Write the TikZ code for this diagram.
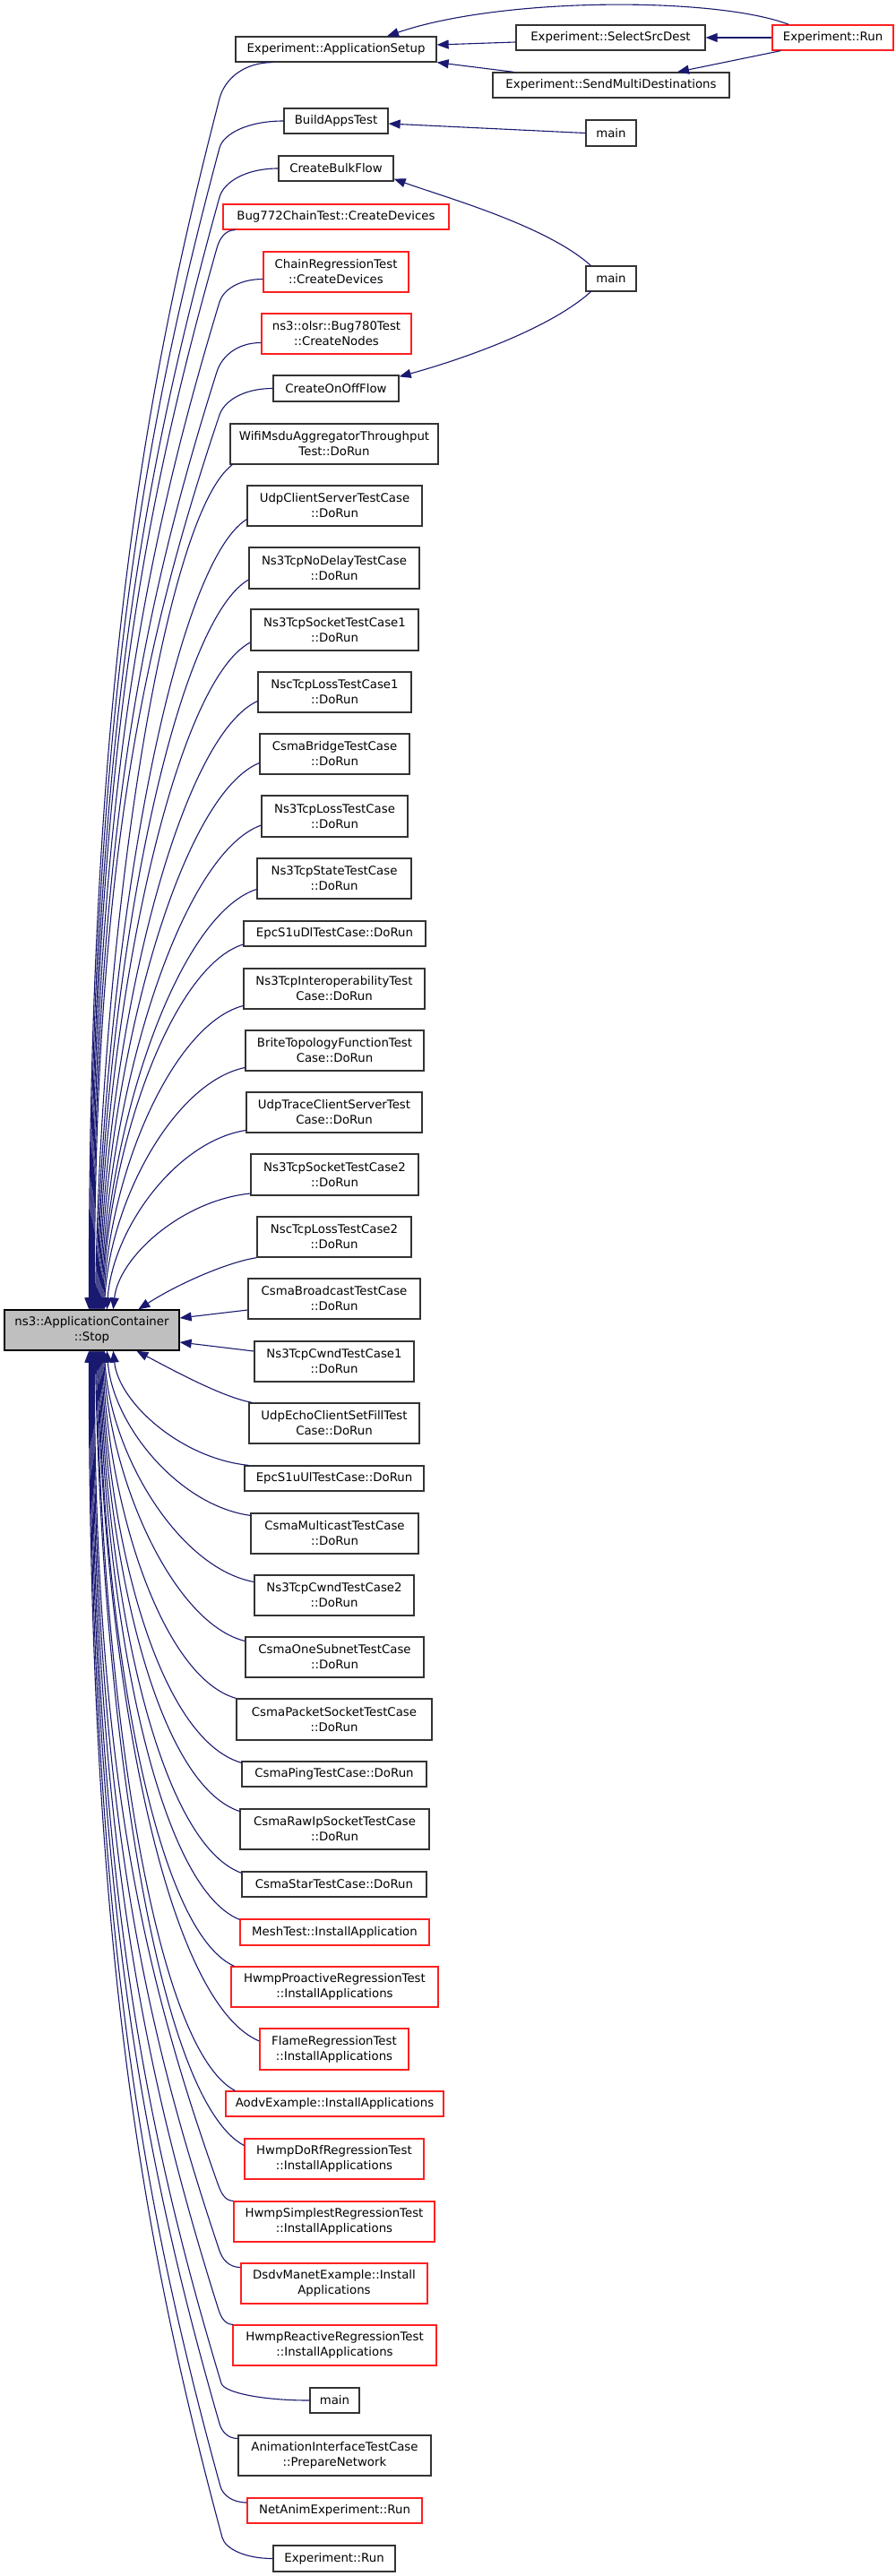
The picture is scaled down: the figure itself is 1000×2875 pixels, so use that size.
\documentclass[tikz,border=0pt]{standalone}
\usepackage{fontspec}
\setmainfont{DejaVu Sans}
\usetikzlibrary{calc,arrows.meta}
\definecolor{edgeblue}{HTML}{191970}
\definecolor{boxline}{HTML}{333333}
\definecolor{mainfill}{HTML}{BFBFBF}
\definecolor{redline}{HTML}{FF2020}
\tikzset{
  bx/.style={draw=boxline, line width=1.3pt, fill=white, inner sep=0pt, align=center,
             font=\fontsize{13.3pt}{17pt}\selectfont},
  rbx/.style={bx, draw=redline},
  mbx/.style={bx, fill=mainfill, draw=black},
  cx/.style={draw=edgeblue, line width=1.1pt, -{Triangle[length=13pt,width=10pt]}},
}
% single cubic connector: #1 turn factor, #2 start, #3 end
\newcommand\cedge[3]{%
  \draw[cx] let \p1=#2, \p2=#3, \n1={\x1-\x2}, \n2={\y1-\y2} in
    (\p1) .. controls ({\x1-#1*\n1},{\y1-0.06*\n2}) and ({\x2+0.04*\n1},{\y2+0.45*\n2}) .. (\p2);}
% two-piece connector: #1 start, #2 bend point, #3 end
\newcommand\tedge[3]{%
  \draw[cx] let \p1=#1, \p2=#2, \p3=#3,
    \p4=({0.6*(\x3-\x2)},{0.25*(\y3-\y2)}),
    \n1={atan2(\y4,\x4)}, \n2={0.55*abs(\y2-\y1)} in
    (\p1) .. controls ({\x1-0.55*(\x1-\x2)},\y1) and ({\x2-\n2*cos(\n1)},{\y2-\n2*sin(\n1)}) .. (\p2)
    .. controls ({\x2+\x4},{\y2+\y4}) and (\x3,{\y3-0.5*(\y3-\y2)}) .. (\p3);}
\begin{document}
\begin{tikzpicture}[x=1pt,y=-1pt]
\fill[white] (0,0) rectangle (1000,2875);
\useasboundingbox (0,0) rectangle (1000,2875);

% ---- nodes ----
\node[bx, minimum width=224pt, minimum height=28pt] (appsetup) at (375,55) {Experiment::ApplicationSetup};
\node[bx, minimum width=211pt, minimum height=28pt] (select) at (681.5,42) {Experiment::SelectSrcDest};
\node[rbx, minimum width=135pt, minimum height=28pt] (exprun1) at (929.5,42) {Experiment::Run};
\node[bx, minimum width=264pt, minimum height=28pt] (sendmulti) at (682,95) {Experiment::SendMultiDestinations};
\node[bx, minimum width=116pt, minimum height=28pt] (buildapps) at (375,135) {BuildAppsTest};
\node[bx, minimum width=56pt, minimum height=29pt] (mainA) at (682,148.5) {main};
\node[bx, minimum width=128pt, minimum height=28pt] (bulk) at (375,188) {CreateBulkFlow};
\node[rbx, minimum width=252pt, minimum height=28pt] (bug772) at (375,242) {Bug772ChainTest::CreateDevices};
\node[rbx, minimum width=162pt, minimum height=45pt] (chainreg) at (375,303.5) {ChainRegressionTest\\::CreateDevices};
\node[bx, minimum width=56pt, minimum height=28pt] (mainB) at (682,311) {main};
\node[rbx, minimum width=167pt, minimum height=45pt] (olsr) at (375.5,372.5) {ns3::olsr::Bug780Test\\::CreateNodes};
\node[bx, minimum width=140pt, minimum height=29pt] (onoff) at (375,433.5) {CreateOnOffFlow};
\node[bx, minimum width=232pt, minimum height=45pt] (wifi) at (373,495.5) {WifiMsduAggregatorThroughput\\Test::DoRun};
\node[bx, minimum width=195pt, minimum height=45pt] (udpcs) at (373.5,564.5) {UdpClientServerTestCase\\::DoRun};
\node[bx, minimum width=190pt, minimum height=46pt] (nodelay) at (373,634) {Ns3TcpNoDelayTestCase\\::DoRun};
\node[bx, minimum width=187pt, minimum height=46pt] (sock1) at (373.5,703) {Ns3TcpSocketTestCase1\\::DoRun};
\node[bx, minimum width=171pt, minimum height=45pt] (nsc1) at (373.5,772.5) {NscTcpLossTestCase1\\::DoRun};
\node[bx, minimum width=167pt, minimum height=45pt] (bridge) at (373.5,841.5) {CsmaBridgeTestCase\\::DoRun};
\node[bx, minimum width=163pt, minimum height=46pt] (loss) at (373.5,911) {Ns3TcpLossTestCase\\::DoRun};
\node[bx, minimum width=172pt, minimum height=45pt] (state) at (373,980.5) {Ns3TcpStateTestCase\\::DoRun};
\node[bx, minimum width=203pt, minimum height=28pt] (epcdl) at (373.5,1042) {EpcS1uDlTestCase::DoRun};
\node[bx, minimum width=202pt, minimum height=45pt] (interop) at (373,1103.5) {Ns3TcpInteroperabilityTest\\Case::DoRun};
\node[bx, minimum width=199pt, minimum height=45pt] (brite) at (373.5,1172.5) {BriteTopologyFunctionTest\\Case::DoRun};
\node[bx, minimum width=196pt, minimum height=45pt] (udptrace) at (373,1241.5) {UdpTraceClientServerTest\\Case::DoRun};
\node[bx, minimum width=187pt, minimum height=46pt] (sock2) at (373.5,1311) {Ns3TcpSocketTestCase2\\::DoRun};
\node[bx, minimum width=172pt, minimum height=45pt] (nsc2) at (373,1380.5) {NscTcpLossTestCase2\\::DoRun};
\node[bx, minimum width=192pt, minimum height=45pt] (bcast) at (373,1449.5) {CsmaBroadcastTestCase\\::DoRun};
\node[mbx, minimum width=195pt, minimum height=45pt] (mn) at (102.5,1484.5) {ns3::ApplicationContainer\\::Stop};
\node[bx, minimum width=178pt, minimum height=45pt] (cwnd1) at (373,1519.5) {Ns3TcpCwndTestCase1\\::DoRun};
\node[bx, minimum width=190pt, minimum height=45pt] (echo) at (373,1588.5) {UdpEchoClientSetFillTest\\Case::DoRun};
\node[bx, minimum width=200pt, minimum height=28pt] (epcul) at (373,1650) {EpcS1uUlTestCase::DoRun};
\node[bx, minimum width=187pt, minimum height=45pt] (mcast) at (373.5,1711.5) {CsmaMulticastTestCase\\::DoRun};
\node[bx, minimum width=178pt, minimum height=45pt] (cwnd2) at (373,1780.5) {Ns3TcpCwndTestCase2\\::DoRun};
\node[bx, minimum width=199pt, minimum height=45pt] (onesub) at (373.5,1849.5) {CsmaOneSubnetTestCase\\::DoRun};
\node[bx, minimum width=218pt, minimum height=46pt] (pktsock) at (373,1919) {CsmaPacketSocketTestCase\\::DoRun};
\node[bx, minimum width=206pt, minimum height=28pt] (ping) at (373,1980) {CsmaPingTestCase::DoRun};
\node[bx, minimum width=211pt, minimum height=45pt] (rawip) at (373.5,2041.5) {CsmaRawIpSocketTestCase\\::DoRun};
\node[bx, minimum width=206pt, minimum height=28pt] (star) at (373,2103) {CsmaStarTestCase::DoRun};
\node[rbx, minimum width=211pt, minimum height=29pt] (mesh) at (373.5,2156.5) {MeshTest::InstallApplication};
\node[rbx, minimum width=231pt, minimum height=45pt] (proactive) at (373.5,2217.5) {HwmpProactiveRegressionTest\\::InstallApplications};
\node[rbx, minimum width=166pt, minimum height=46pt] (flame) at (373,2287) {FlameRegressionTest\\::InstallApplications};
\node[rbx, minimum width=243pt, minimum height=28pt] (aodv) at (373.5,2348) {AodvExample::InstallApplications};
\node[rbx, minimum width=200pt, minimum height=45pt] (dorf) at (373,2409.5) {HwmpDoRfRegressionTest\\::InstallApplications};
\node[rbx, minimum width=224pt, minimum height=45pt] (simplest) at (373,2479.5) {HwmpSimplestRegressionTest\\::InstallApplications};
\node[rbx, minimum width=208pt, minimum height=45pt] (dsdv) at (373,2548.5) {DsdvManetExample::Install\\Applications};
\node[rbx, minimum width=227pt, minimum height=45pt] (reactive) at (373.5,2617.5) {HwmpReactiveRegressionTest\\::InstallApplications};
\node[bx, minimum width=55pt, minimum height=28pt] (mainC) at (373.5,2679) {main};
\node[bx, minimum width=215pt, minimum height=45pt] (anim) at (373.5,2740.5) {AnimationInterfaceTestCase\\::PrepareNetwork};
\node[rbx, minimum width=195pt, minimum height=28pt] (netanim) at (373.5,2802) {NetAnimExperiment::Run};
\node[bx, minimum width=136pt, minimum height=29pt] (exprun2) at (373,2855.5) {Experiment::Run};

% ---- top cluster connectors ----
\draw[cx] ($(select.west)+(0,5)$) -- ($(appsetup.east)+(0,-5)$);
\draw[cx] (exprun1.west) -- (select.east);
\draw[cx] ($(exprun1.north west)+(19,0)$) .. controls +(-81,-31) and +(128,-44) .. ($(appsetup.north)+(57,0)$);
\draw[cx] ($(exprun1.south west)+(10,0)$) -- ($(sendmulti.north)+(74,0)$);
\draw[cx] ($(sendmulti.north west)+(24,0)$) -- (appsetup.south east);
\draw[cx] (mainA.west) -- ($(buildapps.east)+(0,3)$);
\draw[cx] ($(mainB.north west)+(6,0)$) .. controls +(-50,-45) and +(55,20) .. ($(bulk.south east)+(0,-3)$);
\draw[cx] ($(mainB.south west)+(6,0)$) .. controls +(-50,45) and +(55,-15) .. ($(onoff.north east)+(0,2)$);

% ---- callers above the main node ----
\tedge{($(appsetup.south west)+(42,0)$)}{(245,110)}{($(mn.north west)+(95,0)$)}
\tedge{(buildapps.west)}{(245,165)}{($(mn.north west)+(96,0)$)}
\tedge{(bulk.west)}{(245,220)}{($(mn.north west)+(97,0)$)}
\tedge{($(bug772.south west)+(14,0)$)}{(242,277)}{($(mn.north west)+(98,0)$)}
\tedge{($(chainreg.west)+(0,8)$)}{(245,337)}{($(mn.north west)+(99,0)$)}
\tedge{($(olsr.west)+(0,10)$)}{(242,415)}{($(mn.north west)+(100,0)$)}
\tedge{(onoff.west)}{(245,463)}{($(mn.north west)+(101,0)$)}
\cedge{0.5}{($(wifi.south west)+(3,0)$)}{($(mn.north west)+(102,0)$)}
\cedge{0.5}{($(udpcs.west)+(0,15)$)}{($(mn.north west)+(103,0)$)}
\cedge{0.5}{($(nodelay.west)+(0,13)$)}{($(mn.north west)+(104,0)$)}
\cedge{0.5}{($(sock1.west)+(0,14)$)}{($(mn.north west)+(105,0)$)}
\cedge{0.5}{($(nsc1.west)+(0,10)$)}{($(mn.north west)+(106,0)$)}
\cedge{0.5}{($(bridge.west)+(0,10)$)}{($(mn.north west)+(107,0)$)}
\cedge{0.5}{($(loss.west)+(0,10)$)}{($(mn.north west)+(108,0)$)}
\cedge{0.5}{($(state.west)+(0,12)$)}{($(mn.north west)+(109,0)$)}
\cedge{0.5}{($(epcdl.west)+(0,12)$)}{($(mn.north west)+(110,0)$)}
\cedge{0.5}{($(interop.west)+(0,19)$)}{($(mn.north west)+(111,0)$)}
\cedge{0.5}{($(brite.west)+(0,19)$)}{($(mn.north west)+(112,0)$)}
\cedge{0.5}{($(udptrace.west)+(0,20)$)}{($(mn.north west)+(115,0)$)}
\cedge{0.5}{($(sock2.west)+(0,21)$)}{($(mn.north west)+(122,0)$)}
\draw[cx] (nsc2.south west) .. controls +(-32,5) and +(45,-29) .. ($(mn.north west)+(150,0)$);

% ---- callers beside the main node ----
\draw[cx] ($(bcast.west)+(0,12.5)$) -- ($(mn.east)+(0,-13.5)$);
\draw[cx] ($(cwnd1.west)+(0,-11.5)$) -- ($(mn.east)+(0,13.5)$);

% ---- callers below the main node ----
\draw[cx] ($(echo.north west)+(4,0)$) .. controls +(-32,-6) and +(47,25) .. ($(mn.south west)+(148,0)$);
\cedge{0.5}{($(epcul.north west)+(5,0)$)}{($(mn.south west)+(122,0)$)}
\cedge{0.5}{($(mcast.north west)+(0,3)$)}{($(mn.south west)+(115,0)$)}
\cedge{0.5}{($(cwnd2.west)+(0,-15)$)}{($(mn.south west)+(112,0)$)}
\cedge{0.5}{($(onesub.west)+(0,-18)$)}{($(mn.south west)+(111,0)$)}
\cedge{0.55}{(pktsock.north west)}{($(mn.south west)+(110,0)$)}
\cedge{0.6}{($(ping.north west)+(0,2)$)}{($(mn.south west)+(109,0)$)}
\cedge{0.6}{($(rawip.west)+(0,-20)$)}{($(mn.south west)+(108,0)$)}
\cedge{0.6}{($(star.north west)+(0,2)$)}{($(mn.south west)+(107,0)$)}
\cedge{0.6}{($(mesh.north west)+(0,1)$)}{($(mn.south west)+(106,0)$)}
\cedge{0.6}{($(proactive.north west)+(4,0)$)}{($(mn.south west)+(105,0)$)}
\cedge{0.6}{($(flame.west)+(0,-9)$)}{($(mn.south west)+(104,0)$)}
\cedge{0.6}{($(aodv.north west)+(11,0)$)}{($(mn.south west)+(103,0)$)}
\cedge{0.6}{($(dorf.west)+(0,-15)$)}{($(mn.south west)+(102,0)$)}
\tedge{(simplest.north west)}{(243,2437)}{($(mn.south west)+(101,0)$)}
\tedge{($(dsdv.west)+(0,-18)$)}{(245,2512)}{($(mn.south west)+(100,0)$)}
\tedge{($(reactive.north west)+(1,0)$)}{(244,2578)}{($(mn.south west)+(99,0)$)}
\tedge{(mainC.west)}{(247,2660)}{($(mn.south west)+(98,0)$)}
\tedge{($(anim.west)+(0,-19)$)}{(245,2705)}{($(mn.south west)+(97,0)$)}
\tedge{($(netanim.west)+(0,-9)$)}{(246,2775)}{($(mn.south west)+(96,0)$)}
\tedge{(exprun2.west)}{(248,2832)}{($(mn.south west)+(95,0)$)}
\end{tikzpicture}
\end{document}
